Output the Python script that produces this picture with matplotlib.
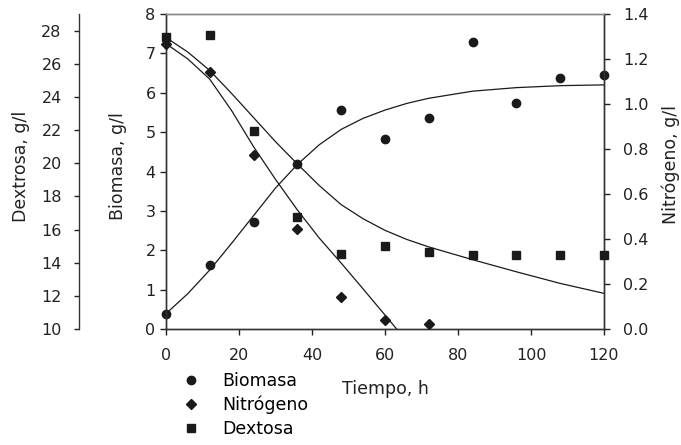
import matplotlib
matplotlib.use("Agg")
import matplotlib.pyplot as plt
from matplotlib.lines import Line2D

plt.rcParams['font.family'] = ['DejaVu Sans']

# Observed data
tiempo = [0, 12, 24, 36, 48, 60, 72, 84, 96, 108, 120]
biomasa = [0.39, 1.63, 2.73, 4.20, 5.55, 4.83, 5.37, 7.28, 5.74, 6.37, 6.45]
tiempo_n = [0, 12, 24, 36, 48, 60, 72]
nitrogeno = [1.268, 1.144, 0.773, 0.444, 0.142, 0.039, 0.022]
dextrosa = [27.61, 27.75, 21.94, 16.74, 14.52, 15.02, 14.63, 14.45, 14.45, 14.45, 14.45]

# Model curves
t_fit = [0, 6, 12, 18, 24, 30, 36, 42, 48, 54, 60, 66, 72, 84, 96, 108, 120]
biomasa_fit = [0.39, 0.90, 1.50, 2.18, 2.88, 3.58, 4.18, 4.68, 5.07, 5.35, 5.56, 5.73, 5.86, 6.04, 6.13, 6.18, 6.20]
dextrosa_fit = [27.58, 26.7, 25.59, 24.2, 22.75, 21.3, 19.95, 18.65, 17.5, 16.65, 15.95, 15.4, 14.95, 14.18, 13.45, 12.75, 12.15]
t_fit_n = [0, 6, 12, 18, 24, 30, 36, 42, 48, 54, 60, 63.2]
nitrogeno_fit = [1.268, 1.20, 1.11, 0.97, 0.81, 0.665, 0.529, 0.404, 0.293, 0.178, 0.062, 0.0]

x_ticks = [0, 20, 40, 60, 80, 100, 120]
bio_ticks = [0, 1, 2, 3, 4, 5, 6, 7, 8]
nit_ticks = [0.0, 0.2, 0.4, 0.6, 0.8, 1.0, 1.2, 1.4]
dex_ticks = [10, 12, 14, 16, 18, 20, 22, 24, 26, 28]

W, H = 681, 445
fig = plt.figure(figsize=(W / 100, H / 100), dpi=100)
L, R, T, B = 166, 604, 14, 329
ax = fig.add_axes([L / W, (H - B) / H, (R - L) / W, (B - T) / H])
axn = ax.twinx()
axd = ax.twinx()

dark = '#1a1a1a'
fs_tick = 11.5
fs_lab = 12.5

# Main (biomasa)
ax.set_xlim(0, 120)
ax.set_ylim(0, 8)
ax.set_xticks(x_ticks)
ax.set_yticks(bio_ticks)
ax.plot(t_fit, biomasa_fit, color=dark, lw=0.9)
ax.plot(tiempo, biomasa, 'o', color=dark, ms=6, label='Biomasa', clip_on=False, zorder=5)

# Nitrogeno
axn.set_ylim(0, 1.4)
axn.set_yticks(nit_ticks)
axn.set_yticklabels([f'{v:.1f}' for v in nit_ticks])
axn.plot(t_fit_n, nitrogeno_fit, color=dark, lw=0.9)
axn.plot(tiempo_n, nitrogeno, 'D', color=dark, ms=5.5, label='Nitrógeno', clip_on=False, zorder=5)

# Dextrosa
axd.set_ylim(10, 29)
axd.set_yticks(dex_ticks)
axd.spines['left'].set_position(('axes', (79 - L) / (R - L)))
axd.yaxis.set_ticks_position('left')
axd.yaxis.set_label_position('left')
for s in ['right', 'top', 'bottom']:
    axd.spines[s].set_visible(False)
axd.spines['left'].set_visible(True)
axd.plot(t_fit, dextrosa_fit, color=dark, lw=0.9)
axd.plot(tiempo, dextrosa, 's', color=dark, ms=6, label='Dextosa', clip_on=False, zorder=5)

for a in (ax, axn, axd):
    for s in a.spines.values():
        s.set_color('#333333')
        s.set_linewidth(1.0)
ax.spines['top'].set_color('#888888')
axn.spines['top'].set_color('#888888')

ax.tick_params(axis='x', direction='out', length=4, width=1, pad=9.5, labelsize=fs_tick, colors='#222222')
ax.tick_params(axis='y', direction='out', length=4, width=1, pad=3.5, labelsize=fs_tick, colors='#222222')
axn.tick_params(axis='y', direction='out', length=4, width=1, pad=10, labelsize=fs_tick, colors='#222222')
axd.tick_params(axis='y', direction='out', length=3.5, width=1, pad=9, labelsize=fs_tick, colors='#222222')

ax.set_ylabel('Biomasa, g/l', fontsize=fs_lab, color='#222222')
ax.yaxis.label.set_va('center')
ax.yaxis.set_label_coords((118 - L) / (R - L), (B - 166) / (B - T))
axd.set_ylabel('Dextrosa, g/l', fontsize=fs_lab, color='#222222')
axd.yaxis.label.set_va('center')
axd.yaxis.set_label_coords((21 - L) / (R - L), (B - 166) / (B - T))
axn.set_ylabel('Nitrógeno, g/l', fontsize=fs_lab, color='#222222')
axn.yaxis.label.set_va('center')
axn.yaxis.set_label_coords((671 - L) / (R - L), (B - 165) / (B - T))
ax.set_xlabel('Tiempo, h', fontsize=fs_lab, color='#222222')
ax.xaxis.label.set_va('center')
ax.xaxis.set_label_coords((385.5 - L) / (R - L), (B - 389) / (B - T))

handles = [Line2D([], [], marker='o', ls='none', color=dark, ms=6),
           Line2D([], [], marker='D', ls='none', color=dark, ms=5.5),
           Line2D([], [], marker='s', ls='none', color=dark, ms=6)]
fig.legend(handles, ['Biomasa', 'Nitrógeno', 'Dextosa'], loc='upper left',
           bbox_to_anchor=(181 / W, 1 - 372 / H), frameon=False, fontsize=fs_lab,
           handlelength=1.2, handletextpad=1.2, labelspacing=0.32, borderpad=0, borderaxespad=0)

fig.savefig('out.png', dpi=100)
